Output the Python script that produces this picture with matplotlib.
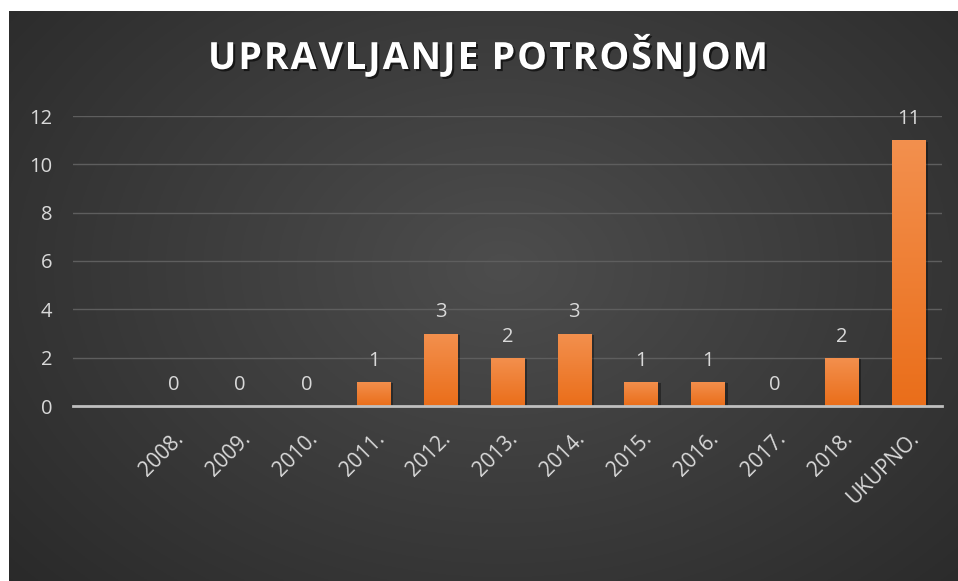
import numpy as np
import matplotlib.pyplot as plt
import matplotlib.patheffects as pe

categories = ['2008.', '2009.', '2010.', '2011.', '2012.', '2013.', '2014.',
              '2015.', '2016.', '2017.', '2018.', 'UKUPNO.']
values = [0, 0, 0, 1, 3, 2, 3, 1, 1, 0, 2, 11]
title = 'UPRAVLJANJE POTROŠNJOM'

W, H = 958, 581
fig = plt.figure(figsize=(W / 100, H / 100), dpi=100)
fig.patch.set_facecolor('white')
fonts = ['Open Sans', 'DejaVu Sans']

# dark radial background (white strip on top/left like the screenshot)
bg = fig.add_axes([9 / W, 0, 1 - 9 / W, 1 - 11 / H])
bg.set_axis_off()
yy, xx = np.mgrid[0:1:300j, 0:1:500j]
r = np.sqrt(((xx - 0.52) / 0.75) ** 2 + ((yy - 0.45) / 0.9) ** 2)
r = np.clip(r, 0, 1)
lo = np.array([0x4d, 0x4d, 0x4d]) / 255
hi = np.array([0x27, 0x27, 0x27]) / 255
img = lo[None, None, :] * (1 - r[..., None]) + hi[None, None, :] * r[..., None]
bg.imshow(img, aspect='auto', extent=[0, 1, 0, 1], origin='upper')
bg.set_xlim(0, 1)
bg.set_ylim(0, 1)

ax = fig.add_axes([73 / W, 1 - 406 / H, (942 - 73) / W, (406 - 116) / H])
ax.set_facecolor('none')
x = np.arange(len(categories))
bars = ax.bar(x, values, width=0.5, color='#f07d2a', zorder=3,
              path_effects=[pe.withSimplePatchShadow(offset=(2, -1), shadow_rgbFace='black', alpha=0.35)])

# vertical gradient inside each bar
grad = np.linspace(0, 1, 100)[:, None]
top_c = np.array([0xf3, 0x90, 0x4e]) / 255
bot_c = np.array([0xea, 0x6e, 0x1a]) / 255
gimg = top_c[None, None, :] * (1 - grad[..., None]) + bot_c[None, None, :] * grad[..., None]
for b in bars:
    if b.get_height() <= 0:
        continue
    im = ax.imshow(gimg, aspect='auto', zorder=4,
                   extent=[b.get_x(), b.get_x() + b.get_width(), 0, b.get_height()])
    im.set_clip_path(b)

for xi, v in zip(x, values):
    ax.annotate(str(v), (xi, v), xytext=(0, 8), textcoords='offset points',
                ha='center', va='bottom', color='#d9d9d9', fontsize=14.5,
                family=fonts)

ax.set_xlim(-1.5, len(categories) - 0.5)
ax.set_ylim(0, 12)
ax.set_yticks(range(0, 13, 2))
ax.grid(axis='y', color='#5e5e5e', linewidth=1, zorder=0)
ax.set_axisbelow(True)
for s in ['top', 'right', 'left']:
    ax.spines[s].set_visible(False)
ax.spines['bottom'].set_color('#bfbfbf')
ax.spines['bottom'].set_linewidth(2)
ax.spines['bottom'].set_zorder(5)
ax.tick_params(axis='both', length=0, colors='#d9d9d9', labelsize=14.5)
ax.tick_params(axis='y', pad=15)
ax.set_xticks(x)
ax.set_xticklabels(categories, rotation=45, ha='right', rotation_mode='anchor',
                   family=fonts, fontsize=15)
ax.tick_params(axis='x', pad=16)
for lab in ax.get_yticklabels():
    lab.set_family(fonts)

# title with letter tracking: place characters one by one
renderer = fig.canvas.get_renderer()
shadow = [pe.withSimplePatchShadow(offset=(1.5, -1.5), shadow_rgbFace='black', alpha=0.6)]
tkw = dict(color='white', fontsize=27, fontweight='bold', family=fonts,
           va='center', ha='left', path_effects=shadow)
chars = [fig.text(0, 1 - 59 / H, c, **tkw) for c in title]
widths = []
for t in chars:
    if t.get_text() == ' ':
        widths.append(9.0)
    else:
        widths.append(t.get_window_extent(renderer).width)
target_left, target_right = 208, 768
gap = (target_right - target_left - sum(widths)) / (len(chars) - 1)
px = target_left
for t, w in zip(chars, widths):
    t.set_x(px / W)
    px += w + gap

fig.savefig('out.png', dpi=100, facecolor=fig.get_facecolor())
